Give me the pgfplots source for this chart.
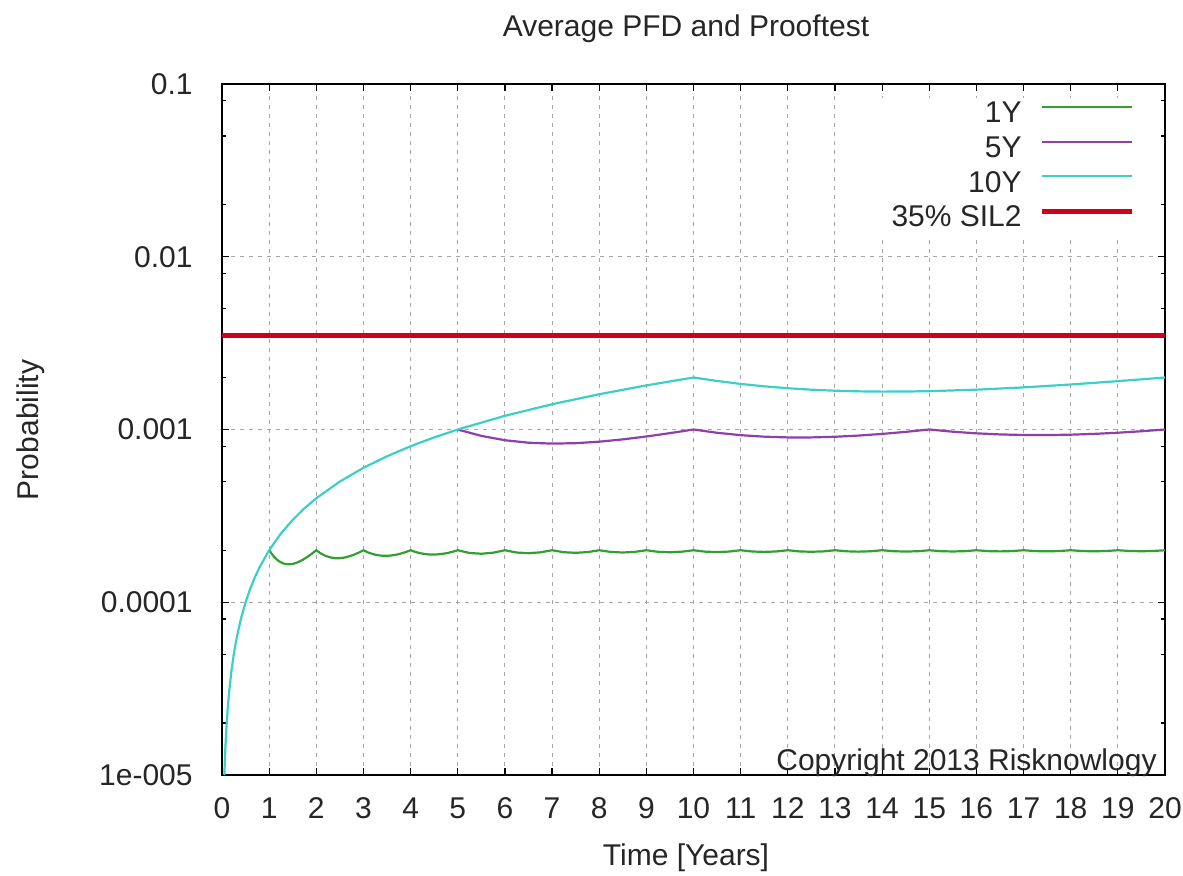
\documentclass[border=0pt]{standalone}
\usepackage{fontspec}
\setmainfont{Liberation Sans}
\usepackage{pgfplots}
\pgfplotsset{compat=1.18}
\usepackage{pgfplotstable}

\definecolor{oneyr}{HTML}{30A030}
\definecolor{fiveyr}{HTML}{8F3FA8}
\definecolor{tenyr}{HTML}{3CCFC8}
\definecolor{silred}{HTML}{D0001A}

% average PFD, proof test every 10 years
\pgfplotstableread{
t p
0.05 1.0e-5
0.06 1.2e-5
0.07 1.4e-5
0.08 1.6e-5
0.1 2.0e-5
0.12 2.4e-5
0.15 3.0e-5
0.2 4.0e-5
0.25 5.0e-5
0.3 6.0e-5
0.4 8.0e-5
0.5 1.0e-4
0.6 1.2e-4
0.7 1.4e-4
0.8 1.6e-4
1.0 2.0e-4
1.25 2.5e-4
1.5 3.0e-4
1.75 3.5e-4
2 4.0e-4
2.5 5.0e-4
3 6.0e-4
3.5 7.0e-4
4 8.0e-4
4.5 9.0e-4
5 1.0e-3
6 1.2e-3
7 1.4e-3
8 1.6e-3
9 1.8e-3
10 2.0e-3
10.5 1.910e-3
11 1.836e-3
11.5 1.778e-3
12 1.733e-3
12.5 1.700e-3
13 1.677e-3
13.5 1.663e-3
14 1.657e-3
14.5 1.659e-3
15 1.667e-3
16 1.700e-3
17 1.753e-3
18 1.822e-3
19 1.905e-3
20 2.000e-3
}\tenyear

% proof test every 5 years (same as 10Y before t=5)
\pgfplotstableread{
t p
5 1.0e-3
5.5 9.182e-4
6 8.667e-4
6.5 8.385e-4
7 8.286e-4
7.5 8.333e-4
8 8.500e-4
8.5 8.765e-4
9 9.111e-4
9.5 9.526e-4
10 1.0e-3
10.5 9.571e-4
11 9.273e-4
11.5 9.087e-4
12 9.000e-4
12.5 9.000e-4
13 9.077e-4
13.5 9.222e-4
14 9.429e-4
14.5 9.690e-4
15 1.0e-3
15.5 9.710e-4
16 9.500e-4
16.5 9.364e-4
17 9.294e-4
17.5 9.286e-4
18 9.333e-4
18.5 9.432e-4
19 9.579e-4
19.5 9.769e-4
20 1.0e-3
}\fiveyear

% proof test every year
\pgfplotstableread{
t p
1 2.000e-4
1.1 1.836e-4
1.2 1.733e-4
1.3 1.677e-4
1.4 1.657e-4
1.5 1.667e-4
1.6 1.700e-4
1.7 1.753e-4
1.8 1.822e-4
1.9 1.905e-4
2 2.000e-4
2.1 1.914e-4
2.2 1.855e-4
2.3 1.817e-4
2.4 1.800e-4
2.5 1.800e-4
2.6 1.815e-4
2.7 1.844e-4
2.8 1.886e-4
2.9 1.938e-4
3 2.000e-4
3.1 1.942e-4
3.2 1.900e-4
3.3 1.873e-4
3.4 1.859e-4
3.5 1.857e-4
3.6 1.867e-4
3.7 1.886e-4
3.8 1.916e-4
3.9 1.954e-4
4 2.000e-4
4.1 1.956e-4
4.2 1.924e-4
4.3 1.902e-4
4.4 1.891e-4
4.5 1.889e-4
4.6 1.896e-4
4.7 1.911e-4
4.8 1.933e-4
4.9 1.963e-4
5 2.000e-4
5.25 1.929e-4
5.5 1.909e-4
5.75 1.935e-4
6 2.000e-4
6.25 1.940e-4
6.5 1.923e-4
6.75 1.944e-4
7 2.000e-4
7.25 1.948e-4
7.5 1.933e-4
7.75 1.951e-4
8 2.000e-4
8.25 1.955e-4
8.5 1.941e-4
8.75 1.957e-4
9 2.000e-4
9.25 1.959e-4
9.5 1.947e-4
9.75 1.962e-4
10 2.000e-4
10.25 1.963e-4
10.5 1.952e-4
10.75 1.965e-4
11 2.000e-4
11.25 1.967e-4
11.5 1.957e-4
11.75 1.968e-4
12 2.000e-4
12.25 1.969e-4
12.5 1.960e-4
12.75 1.970e-4
13 2.000e-4
13.25 1.972e-4
13.5 1.963e-4
13.75 1.973e-4
14 2.000e-4
14.25 1.974e-4
14.5 1.966e-4
14.75 1.974e-4
15 2.000e-4
15.25 1.975e-4
15.5 1.968e-4
15.75 1.976e-4
16 2.000e-4
16.25 1.977e-4
16.5 1.970e-4
16.75 1.978e-4
17 2.000e-4
17.25 1.978e-4
17.5 1.971e-4
17.75 1.979e-4
18 2.000e-4
18.25 1.979e-4
18.5 1.973e-4
18.75 1.980e-4
19 2.000e-4
19.25 1.981e-4
19.5 1.974e-4
19.75 1.981e-4
20 2.000e-4
}\oneyear

\begin{document}
\begin{tikzpicture}[font=\fontsize{15}{18}\selectfont]
\path[use as bounding box] (-111pt,-50.5pt) rectangle (480.5pt,387.5pt);
\begin{axis}[
  at={(0pt,0pt)}, anchor=south west,
  scale only axis, width=471.5pt, height=345.5pt,
  xmin=0, xmax=20, ymin=1e-5, ymax=0.1, ymode=log,
  xtick={0,1,...,20},
  ytick={1e-5,1e-4,1e-3,1e-2,1e-1},
  yticklabels={1e-005,0.0001,0.001,0.01,0.1},
  minor ytick={2e-5,5e-5,8e-5,2e-4,5e-4,8e-4,2e-3,5e-3,8e-3,2e-2,5e-2,8e-2},
  /pgf/number format/assume math mode=true,
  ticklabel style={text=black!85},
  xticklabel style={anchor=base, yshift=-21.5pt},
  yticklabel style={anchor=east, inner sep=0pt, xshift=-14.5pt},
  tick align=inside,
  major tick length=3.5pt, minor tick length=2pt,
  every tick/.style={black, line width=0.6pt},
  axis line style={black, line width=0.6pt},
  grid=major,
  major grid style={draw=black!35, dash pattern=on 2pt off 2.5pt, line width=0.5pt},
  legend style={at={(1,1)}, anchor=north east, xshift=-12.5pt, yshift=-6.6pt,
    draw=none, fill=white, inner xsep=2.5pt, inner ysep=0pt, column sep=6.5pt,
    nodes={inner sep=2.5pt, text height=10.1pt, text depth=2.25pt, text=black!85},
    font=\fontsize{15}{18}\selectfont},
  legend cell align=right,
  legend plot pos=right,
  legend image code/.code={\draw[#1] (0pt,4pt) -- (45pt,4pt);},
]
\addplot[oneyr, line width=1.1pt] table[x=t, y=p] {\oneyear};
\addlegendentry{1Y}
\addplot[fiveyr, line width=1.1pt] table[x=t, y=p] {\fiveyear};
\addlegendentry{5Y}
\addplot[tenyr, line width=1.1pt] table[x=t, y=p] {\tenyear};
\addlegendentry{10Y}
\addplot[silred, line width=2.5pt] coordinates {(0,0.0035) (20,0.0035)};
\addlegendentry{35\% SIL2}
\end{axis}
\node[anchor=base, text=black!85] at (232pt,369.15pt) {Average PFD and Prooftest};
\node[anchor=base, text=black!85] at (232pt,-45.5pt) {Time [Years]};
\node[anchor=base, rotate=90, text=black!85] at (-91.5pt,172.5pt) {Probability};
\node[anchor=base east, text=black!85, inner sep=0pt] at (467.5pt,2pt) {Copyright 2013 Risknowlogy};
\end{tikzpicture}
\end{document}
